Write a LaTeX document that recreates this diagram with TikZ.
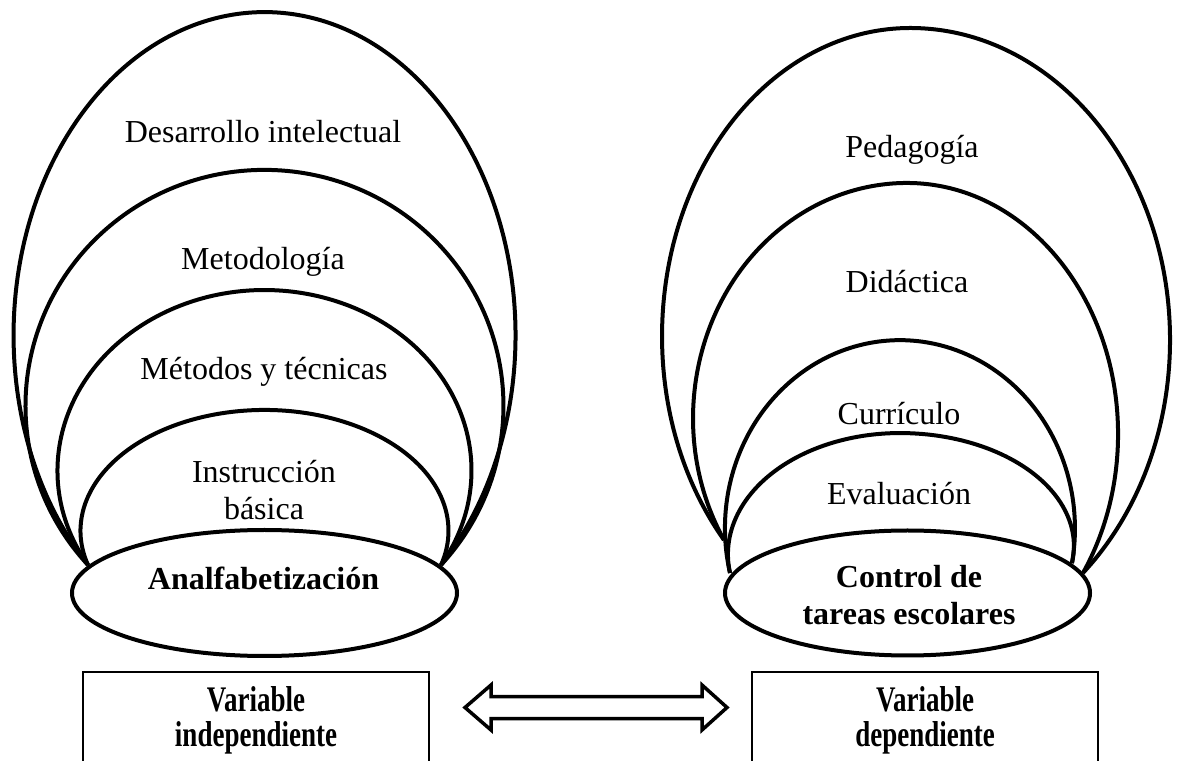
\documentclass[tikz,border=0pt]{standalone}
\usepackage{fontspec}
\setmainfont{Liberation Serif}
\usetikzlibrary{calc,shapes.geometric}

\begin{document}
\begin{tikzpicture}[x=1pt,y=1pt,
		arco/.style={line width=4pt},
		nucleo/.style={ellipse, draw, line width=4pt, fill=white, inner sep=0pt},
		etiqueta/.style={font=\fontsize{32}{37}\selectfont, align=center, anchor=base, inner sep=0pt},
		caja/.style={draw, line width=1.3pt, inner sep=0pt, minimum width=346, minimum height=94},
		textocaja/.style={font=\bfseries\fontsize{36}{35}\selectfont, align=center, anchor=base, inner sep=0pt}]
		\useasboundingbox (0,0) rectangle (1177,760);
		\clip (0,0) rectangle (1177,760);
		
		% arcos izquierda
		\draw[arco] (88,195) arc[start angle=225.3, end angle=-45.3, x radius=251, y radius=323.2];
		\draw[arco] (88,195) arc[start angle=222.4, end angle=-42.4, x radius=239, y radius=236];
		\draw[arco] (88,195) arc[start angle=211.5, end angle=-31.5, x radius=207, y radius=180.6];
		\draw[arco] (88,195) arc[start angle=196.4, end angle=-16.4, x radius=184, y radius=120.9];
		
		% arcos derecha (mitad izquierda y mitad derecha)
		\draw[arco] (724,220) arc[start angle=221.4, end angle=90, x radius=248, y radius=308.2]
			arc[start angle=90, end angle=-48.3, x radius=260, y radius=312];
		\draw[arco] (724,220) arc[start angle=211.2, end angle=90, x radius=214, y radius=235.2]
			arc[start angle=90, end angle=-33.5, x radius=211, y radius=251.3];
		\draw[arco] (730,187) arc[start angle=193.8, end angle=90, x radius=175, y radius=188]
			arc[start angle=90, end angle=-10.6, x radius=175, y radius=188.3];
		\draw[arco] (730,187) arc[start angle=188.9, end angle=90, x radius=172, y radius=121.2]
			arc[start angle=90, end angle=-8.7, x radius=174, y radius=113];
		
		\node[nucleo, minimum width=385, minimum height=126] (analf) at (264.5,167) {};
		\node[nucleo, minimum width=365, minimum height=125] (control) at (907.5,167) {};
		
		\node[etiqueta] (desarrollo) at (263,617) {Desarrollo intelectual};
		\node[etiqueta] (metodologia) at (263,490) {Metodología};
		\node[etiqueta] (metodos) at (264,380) {Métodos y técnicas};
		\node[etiqueta] (instruccion) at (264,240) {Instrucción\\básica};
		\node[etiqueta, font=\bfseries\fontsize{32}{37}\selectfont] (tanalf) at ($(analf.center)+(-1,3)$) {Analfabetización};
		
		\node[etiqueta] (pedagogia) at (912,602) {Pedagogía};
		\node[etiqueta] (didactica) at (907,467) {Didáctica};
		\node[etiqueta] (curriculo) at (899,335) {Currículo};
		\node[etiqueta] (evaluacion) at (899,255) {Evaluación};
		\node[etiqueta, font=\bfseries\fontsize{32}{37}\selectfont] (tcontrol) at ($(control.center)+(1.5,-32)$) {Control de\\tareas escolares};
		
		% cajas de variables
		\node[caja] (vi) at (256,41) {};
		\node[caja] (vd) at (925,41) {};
		\node[textocaja] (tvi) at ($(vi.north)+(0,-75)$) {\scalebox{0.75}[1]{Variable}\\\scalebox{0.75}[1]{independiente}};
		\node[textocaja] (tvd) at ($(vd.north)+(0,-75)$) {\scalebox{0.75}[1]{Variable}\\\scalebox{0.75}[1]{dependiente}};
		
		\coordinate (flechaI) at (465,52.5);
		\coordinate (flechaD) at (727,52.5);
		\draw[line width=3.5pt, fill=white] (flechaI) -- ++(26,22.5) -- ++(0,-11.5) -- ($(flechaD)+(-25,11)$) -- ++(0,11.5) -- (flechaD) -- ++(-25,-22.5) -- ++(0,11.5) -- ($(flechaI)+(26,-11)$) -- ++(0,-11.5) -- cycle;
\end{tikzpicture}
\end{document}
